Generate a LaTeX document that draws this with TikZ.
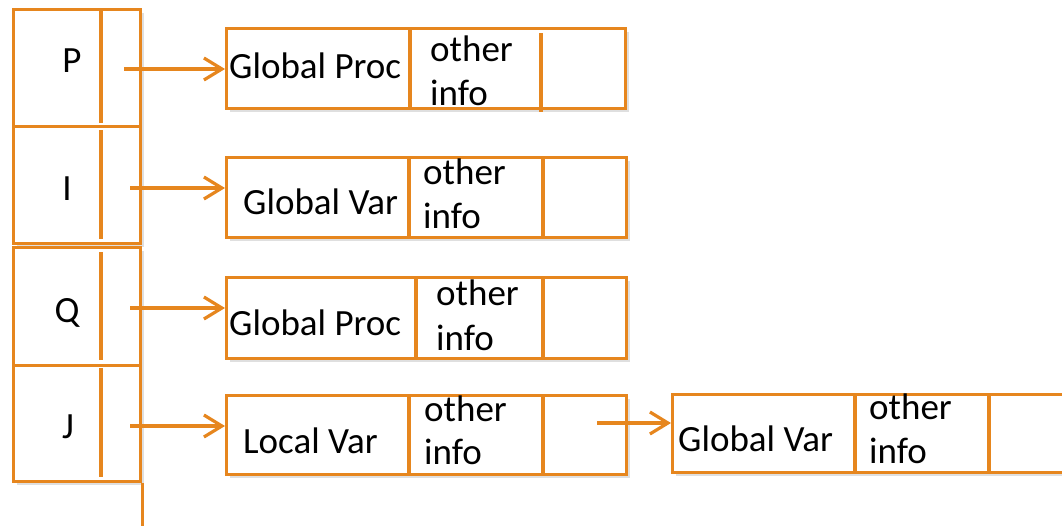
\documentclass[tikz,border=0pt]{standalone}
\usepackage{fontspec}
\setmainfont{Carlito}
\usetikzlibrary{arrows.meta,shadows}
\definecolor{orng}{RGB}{230,134,30}
\begin{document}
\begin{tikzpicture}[x=1pt,y=-1pt,
  box/.style={draw=orng,line width=3.2pt,fill=white,inner sep=0pt,anchor=north west,
    drop shadow={shadow xshift=3pt,shadow yshift=-3pt,opacity=0.25,fill=black!50}},
  div/.style={draw=orng,line width=3.2pt},
  arr/.style={draw=orng,line width=3.2pt,-{Straight Barb[length=18pt,width=22pt,line width=3.2pt]}},
  txt/.style={font=\fontsize{37}{44}\selectfont,inner sep=0pt,anchor=base west},
  ltr/.style={font=\fontsize{37}{44}\selectfont,inner sep=0pt,anchor=base}]
\useasboundingbox (0,0) rectangle (1062,525);

% left column
\node[box,minimum width=127pt,minimum height=117pt] (bP) at (12,8) {};
\node[box,minimum width=127pt,minimum height=117pt] (bI) at (12,125) {};
\node[box,minimum width=127pt,minimum height=118pt] (bQ) at (12,246) {};
\node[box,minimum width=127pt,minimum height=116pt] (bJ) at (12,364) {};
\draw[div] (101,11) -- (101,123);
\draw[div] (101,130) -- (101,239);
\draw[div] (101,252) -- (101,360);
\draw[div] (101,368) -- (101,477);
\node[ltr] (tP) at (72,72) {P};
\node[ltr] (tI) at (67,200) {I};
\node[ltr] (tQ) at (67,322) {Q};
\node[ltr] (tJ) at (68,438) {J};
\draw[div] (bJ.south east) -- ++(0,48);

% records
\node[box,minimum width=399pt,minimum height=80pt] (r1) at (225,27) {};
\draw[div] (410,27) -- (410,107);
\draw[div] (541,33) -- (541,112);
\node[txt] (r1a) at (229,78) {Global Proc};
\node[txt] (r1b) at (430,61) {other};
\node[txt] (r1c) at (430,105) {info};

\node[box,minimum width=400pt,minimum height=80pt] (r2) at (225,156) {};
\draw[div] (409,156) -- (409,236);
\draw[div] (543,156) -- (543,236);
\node[txt] (r2a) at (243,214) {Global Var};
\node[txt] (r2b) at (423,184) {other};
\node[txt] (r2c) at (423,228) {info};

\node[box,minimum width=400pt,minimum height=81pt] (r3) at (225,276) {};
\draw[div] (416,276) -- (416,357);
\draw[div] (543,276) -- (543,357);
\node[txt] (r3a) at (229,335) {Global Proc};
\node[txt] (r3b) at (436,305) {other};
\node[txt] (r3c) at (436,350) {info};

\node[box,minimum width=400pt,minimum height=79pt] (r4) at (225,394) {};
\draw[div] (409,394) -- (409,473);
\draw[div] (543,394) -- (543,473);
\node[txt] (r4a) at (243,453) {Local Var};
\node[txt] (r4b) at (424,421) {other};
\node[txt] (r4c) at (424,464) {info};

\node[box,minimum width=391pt,minimum height=78pt] (r5) at (671,393) {};
\draw[div] (855,393) -- (855,471);
\draw[div] (989,393) -- (989,471);
\node[txt] (r5a) at (678,451) {Global Var};
\node[txt] (r5b) at (869,419) {other};
\node[txt] (r5c) at (869,463) {info};

% arrows
\coordinate (a1) at (124,69);
\coordinate (a2) at (130,188);
\coordinate (a3) at (130,308);
\coordinate (a4) at (130,426);
\coordinate (a5) at (597,423);
\draw[arr] (a1) -- (a1 -| r1.west);
\draw[arr] (a2) -- (a2 -| r2.west);
\draw[arr] (a3) -- (a3 -| r3.west);
\draw[arr] (a4) -- (a4 -| r4.west);
\draw[arr] (a5) -- (a5 -| r5.west);
\end{tikzpicture}
\end{document}
